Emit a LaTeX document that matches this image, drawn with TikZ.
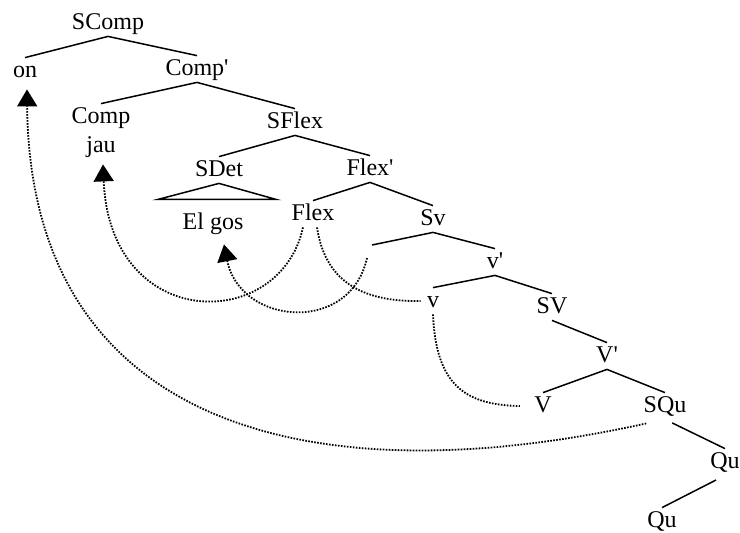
\documentclass[tikz,border=0pt]{standalone}
\usepackage{fontspec}
\setmainfont{Liberation Serif}
\usetikzlibrary{arrows.meta, calc}
\newcommand{\apos}{\textquotesingle}
\tikzset{
  cat/.style={anchor=base, inner xsep=1pt, inner ysep=1pt, text height=0.85em, text depth=0.25em, font=\fontsize{12}{14}\selectfont},
  branch/.style={line width=0.75pt},
  trace/.style={line width=0.9pt, dash pattern=on 0.8pt off 0.7pt},
  mv/.style={trace, -{Triangle[width=10pt,length=8.5pt]}}
}

\begin{document}
\begin{tikzpicture}[x=0.5pt, y=-0.5pt]
  \useasboundingbox (0,0) rectangle (740,532);

  % categories
  \node[cat] (scomp) at (108,29) {SComp};
  \node[cat] (on) at (25,77) {on};
  \node[cat] (compb) at (197,75) {Comp\apos};
  \node[cat] (comp) at (101,123) {Comp};
  \node[cat] (jau) at (101,152) {jau};
  \node[cat] (sflex) at (295,128) {SFlex};
  \node[cat] (sdet) at (219,176) {SDet};
  \node[cat] (elgos) at (213,229) {El gos};
  \node[cat] (flexb) at (370,175) {Flex\apos};
  \node[cat] (flex) at (313,220) {Flex};
  \node[cat] (sv) at (433,225) {Sv};
  \node[cat] (vb) at (495,268) {v\apos};
  \node[cat] (v) at (433,307) {v};
  \node[cat] (svv) at (552,313) {SV};
  \node[cat] (vvb) at (607,362) {V\apos};
  \node[cat] (vv) at (543,412) {V};
  \node[cat] (squ) at (665,412) {SQu};
  \node[cat] (qub) at (725,468) {Qu};
  \node[cat] (qu) at (662,527) {Qu};
  \coordinate (svl) at (372,245);
  \coordinate (svt) at (367,258);

  % branches
  \draw[branch] (on.north) -- (scomp.south) -- (compb.north);
  \draw[branch] (comp.north) -- (compb.south) -- (sflex.north);
  \draw[branch] (sdet.north) -- (sflex.south) -- (flexb.north);
  \draw[branch] (sdet.south) -- ($(sdet.south)+(-61,16)$) -- ($(sdet.south)+(57,16)$) -- cycle;
  \draw[branch] (flex.north) -- (flexb.south) -- (sv.north);
  \draw[branch] (svl) -- (sv.south) -- (vb.north);
  \draw[branch] (v.north) -- (vb.south) -- (svv.north);
  \draw[branch] (svv.south) -- (vvb.north);
  \draw[branch] (vv.north) -- (vvb.south) -- (squ.north);
  \draw[branch, shorten <=4pt] (squ.south) -- (qub.north);
  \draw[branch, shorten <=5pt] (qub.south) -- (qu.north);

  % movement
  \draw[mv] ([xshift=-5pt]flex.south) .. controls (280,333) and (110,333) .. ($(jau.south)+(2,5)$);
  \draw[trace] ([xshift=2pt]flex.south) .. controls (325,280) and (360,302) .. ([xshift=-2pt]v.west);
  \draw[mv] (svt) .. controls (350,335) and (240,325) .. ($(elgos.south)+(11,8)$);
  \draw[trace] (v.south) .. controls (436,385) and (465,405) .. ([xshift=-6pt]vv.west);
  \draw[mv] ($(squ.south west)+(5,4)$) .. controls (300,500) and (30,420) .. ($(on.south)+(2,5)$);
\end{tikzpicture}
\end{document}
